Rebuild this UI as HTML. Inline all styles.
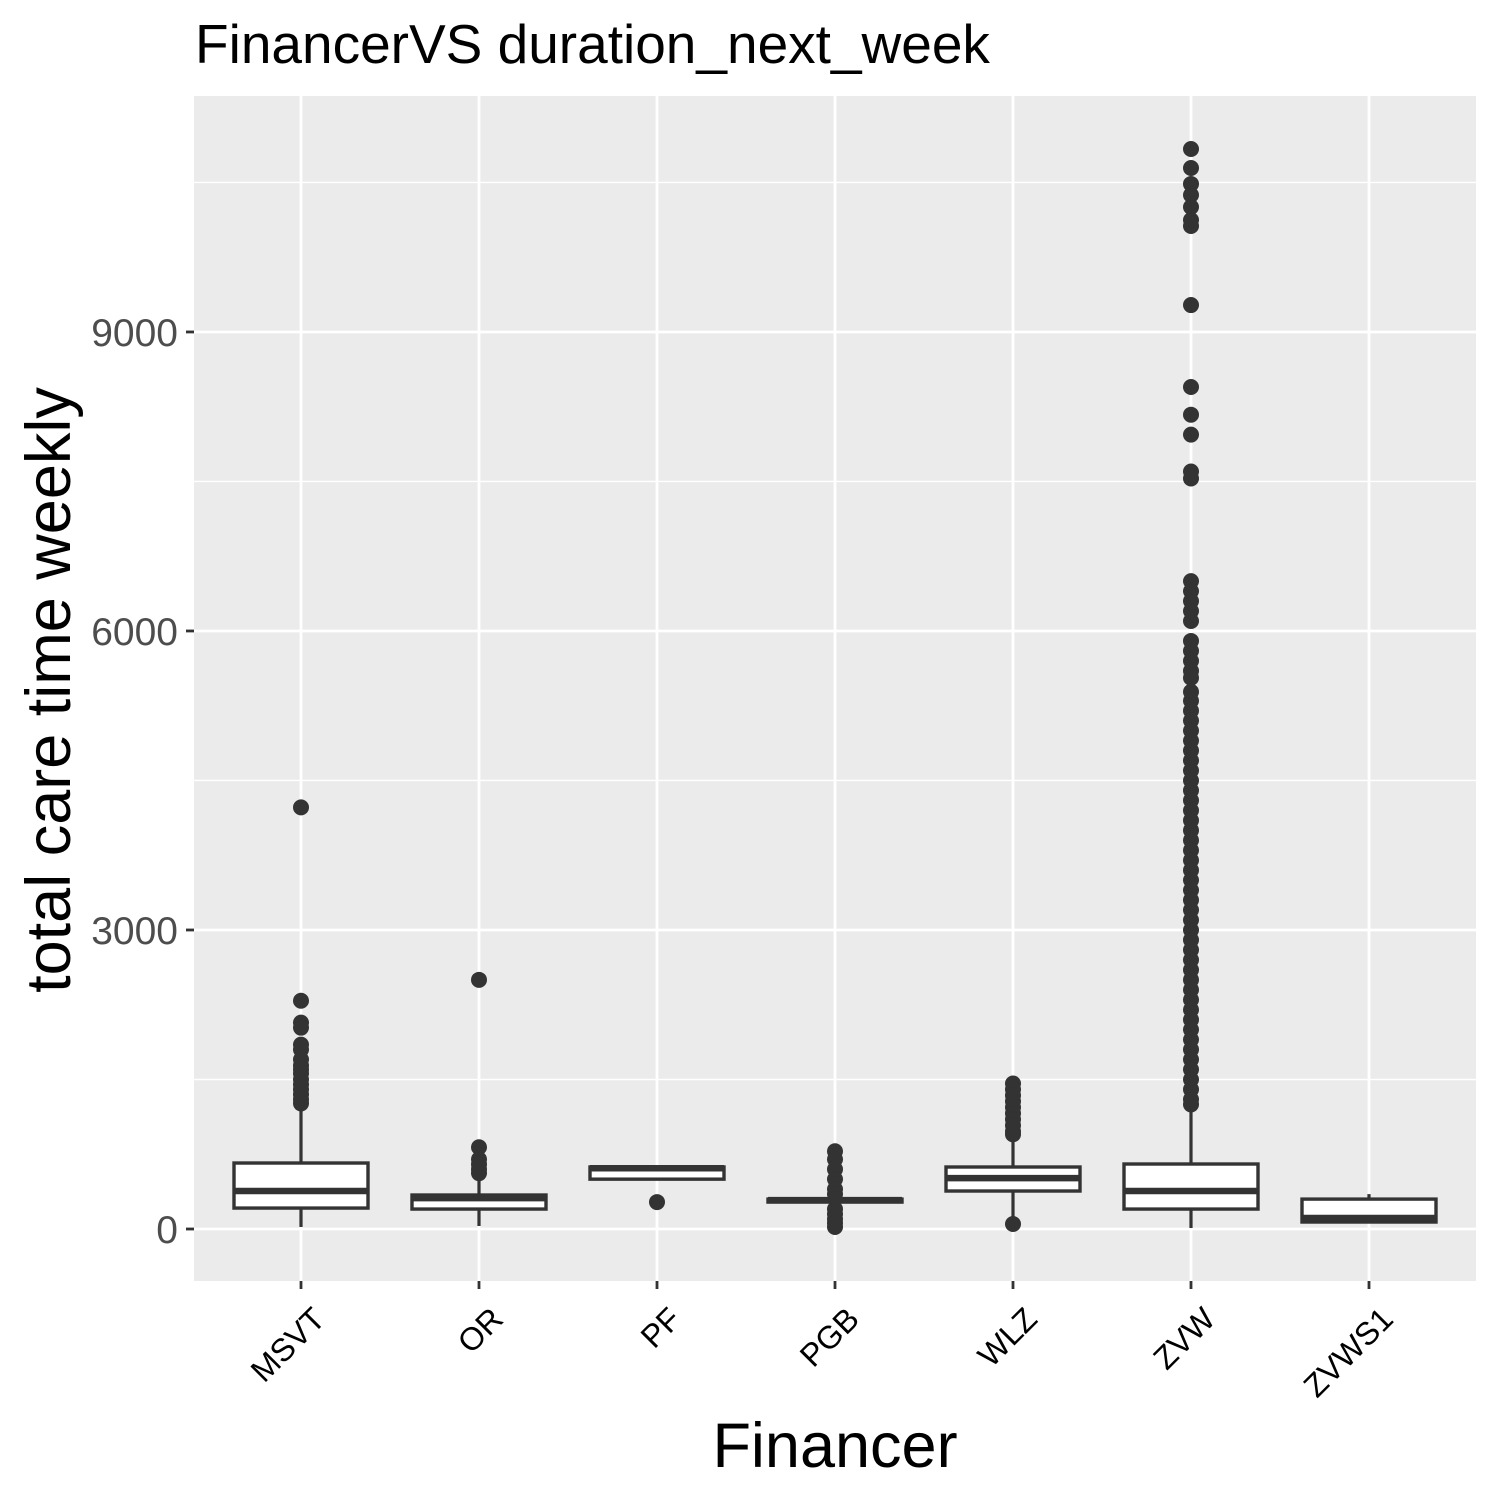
<!DOCTYPE html>
<html><head><meta charset="utf-8"><style>
body{margin:0;background:#fff;}
svg{display:block;font-family:"Liberation Sans",Arial,sans-serif;}
</style></head><body>
<svg id="chart" width="1500" height="1500" viewBox="0 0 1500 1500" xmlns="http://www.w3.org/2000/svg">
<text x="195" y="63" font-size="55" fill="#000">FinancerVS duration_next_week</text>
<rect x="194" y="96" width="1282" height="1185" fill="#EBEBEB"/>
<g id="grid"></g>
<g id="boxes"></g>
<g id="axes"></g>
<text transform="translate(70,690) rotate(-90)" text-anchor="middle" font-size="63" fill="#000">total care time weekly</text>
<text x="835" y="1467" text-anchor="middle" font-size="63" fill="#000">Financer</text>
</svg>
<script>
const categories=["MSVT","OR","PF","PGB","WLZ","ZVW","ZVWS1"];
const q1=[210,200,500,270,381,200,70];
const medians=[381,310,610,290,510,381,110];
const q3=[662,341,622,300,622,652,300];
const whiskerLow=[20,30,500,270,120,10,70];
const whiskerHigh=[1245,510,622,300,900,1215,350];
const outliersMSVT=[4230,2290,2070,2020,1850,1800,1700,1640,1600,1560,1500,1450,1400,1350,1300,1260];
const outliersOR=[2500,820,700,650,600,560];
const outliersPF=[270];
const outliersPGB=[780,700,600,500,400,350,200,150,100,60,20];
const outliersWLZ=[1460,1400,1340,1280,1220,1160,1100,1040,980,950,50];
const outliersZVW=[10836,10645,10485,10374,10254,10123,10063,9270,8448,8170,7970,7600,7530,6500,6400,6300,6200,6100,5900,5800,5700,5600,5530,5390,5300,5200,5100,5000,4900,4800,4700,4600,4500,4400,4300,4200,4100,4000,3900,3800,3700,3600,3500,3400,3300,3200,3100,3000,2900,2800,2700,2600,2500,2400,2300,2200,2100,2000,1900,1800,1700,1600,1500,1400,1300,1250];
const outliersZVWS1=[];
const outliers=[outliersMSVT,outliersOR,outliersPF,outliersPGB,outliersWLZ,outliersZVW,outliersZVWS1];
const yMajor=[0,3000,6000,9000];
const yMinor=[1500,4500,7500,10500];
const yTickLabels=["0","3000","6000","9000"];

const NS="http://www.w3.org/2000/svg";
function y(v){return 1229-v*0.09967;}
function x(i){return 301+i*178;}
function mk(tag,attrs,parent){const e=document.createElementNS(NS,tag);for(const k in attrs)e.setAttribute(k,attrs[k]);parent.appendChild(e);return e;}
const grid=document.getElementById('grid'),boxes=document.getElementById('boxes'),axes=document.getElementById('axes');
yMinor.forEach(v=>{const l=mk('line',{x1:194,x2:1476,y1:y(v),y2:y(v),stroke:'#fff','stroke-width':1.4},grid);

});
yMajor.forEach((v,i)=>{const l=mk('line',{x1:194,x2:1476,y1:y(v),y2:y(v),stroke:'#fff','stroke-width':2.8},grid);


const t=mk('line',{x1:186,x2:194,y1:y(v),y2:y(v),stroke:'#333','stroke-width':2.8},axes);


const tx=mk('text',{x:178,y:y(v)+14,'text-anchor':'end','font-size':39,fill:'#4D4D4D'},axes);tx.textContent=yTickLabels[i];

});
categories.forEach((c,i)=>{const cx=x(i);
const l=mk('line',{x1:cx,x2:cx,y1:96,y2:1281,stroke:'#fff','stroke-width':2.8},grid);


const t=mk('line',{x1:cx,x2:cx,y1:1281,y2:1289,stroke:'#333','stroke-width':2.8},axes);


const tx=mk('text',{transform:`translate(${cx+26},${1321}) rotate(-45)`,'text-anchor':'end','font-size':32,fill:'#000'},axes);tx.textContent=c;


const g=mk('g',{},boxes);


const w=134;
mk('line',{x1:cx,x2:cx,y1:y(q3[i]),y2:y(whiskerHigh[i]),stroke:'#333','stroke-width':3.2},g);
mk('line',{x1:cx,x2:cx,y1:y(q1[i]),y2:y(whiskerLow[i]),stroke:'#333','stroke-width':3.2},g);
mk('rect',{x:cx-w/2,y:y(q3[i]),width:w,height:Math.max(0.5,y(q1[i])-y(q3[i])),fill:'#fff',stroke:'#333','stroke-width':3.4},g);
mk('line',{x1:cx-w/2,x2:cx+w/2,y1:y(medians[i]),y2:y(medians[i]),stroke:'#333','stroke-width':6.5},g);
outliers[i].forEach(v=>{const p=mk('circle',{cx:cx,cy:y(v),r:8,fill:'#333'},g);

});
});
</script>
</body></html>
